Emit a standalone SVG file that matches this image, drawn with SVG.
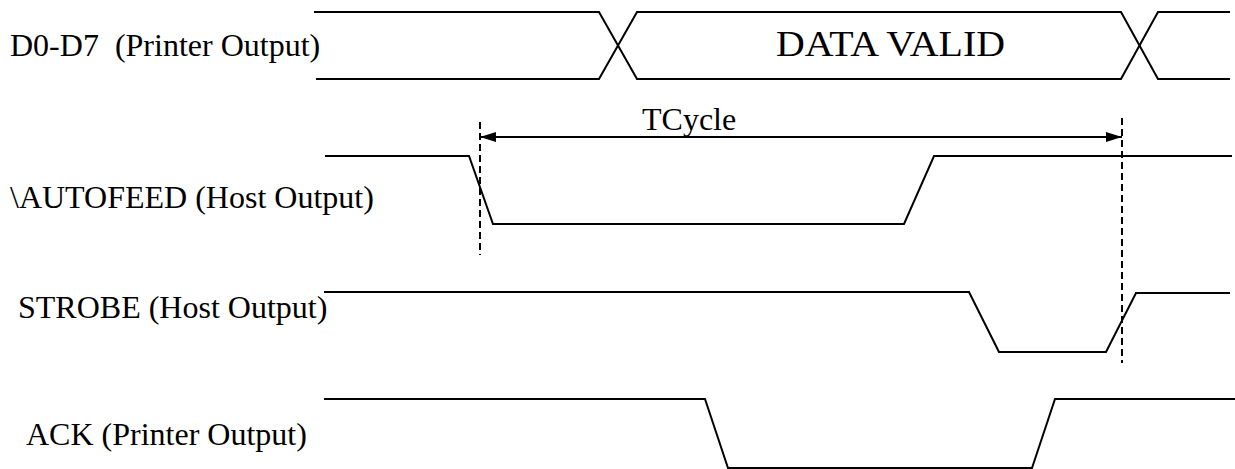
<svg xmlns="http://www.w3.org/2000/svg" width="1235" height="469" viewBox="0 0 1235 469">
<style>
.sig{fill:none;stroke:#000;stroke-width:2;stroke-linejoin:miter}
.lbl{font-family:"Liberation Serif","Times New Roman",serif;font-size:32px;fill:#000;white-space:pre}
.big{font-size:36px}
.dash{fill:none;stroke:#000;stroke-width:2;stroke-dasharray:7 4}
</style>
<defs>
<marker id="ah" markerWidth="16" markerHeight="10" refX="16" refY="5" orient="auto-start-reverse" markerUnits="userSpaceOnUse">
<path d="M0,0 L16,5 L0,10 Z" fill="#000"/>
</marker>
</defs>
<rect width="1235" height="469" fill="#fff"/>
<g id="d0d7">
<text class="lbl" x="10" y="56" xml:space="preserve">D0-D7  (Printer Output)</text>
<path class="sig" d="M314,12 L599,12 L637,79 L1121,79 L1158,12 L1230,12"/>
<path class="sig" d="M316,79 L599,79 L637,12 L1121,12 L1158,79 L1230,79"/>
<text class="lbl big" x="776" y="56" textLength="229" lengthAdjust="spacingAndGlyphs">DATA VALID</text>
</g>
<g id="autofeed">
<text class="lbl" x="10" y="208">\AUTOFEED (Host Output)</text>
<path class="sig" d="M325,156 L469,156 L493,224 L904,224 L934,156 L1232,156"/>
</g>
<g id="strobe">
<text class="lbl" x="18" y="318">STROBE (Host Output)</text>
<path class="sig" d="M324,292 L969,292 L999,352 L1106,352 L1136,293 L1230,293"/>
</g>
<g id="ack">
<text class="lbl" x="26" y="445">ACK (Printer Output)</text>
<path class="sig" d="M324,399 L705,399 L728,468 L1032,468 L1055,399 L1235,399"/>
</g>
<g id="connectors">
<line class="dash" x1="480" y1="122" x2="480" y2="255"/>
<line class="dash" x1="1122" y1="118" x2="1122" y2="363"/>
<line x1="480" y1="137" x2="1122" y2="137" stroke="#000" stroke-width="2" marker-start="url(#ah)" marker-end="url(#ah)"/>
<text class="lbl" x="642" y="130">TCycle</text>
</g>
</svg>
